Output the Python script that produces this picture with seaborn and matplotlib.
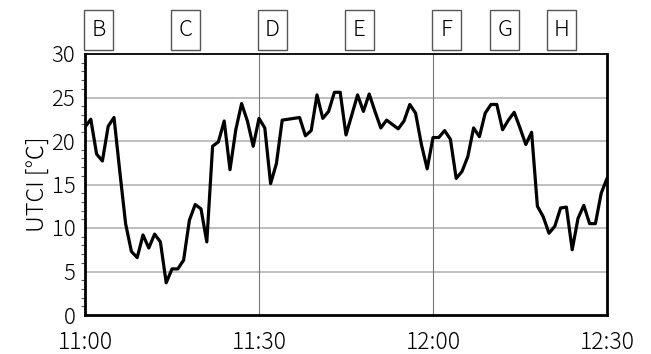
import matplotlib
matplotlib.use("Agg")
import matplotlib.pyplot as plt
import matplotlib.transforms as mtransforms
from matplotlib.patches import Rectangle
from matplotlib.ticker import MultipleLocator
import seaborn as sns
import pandas as pd

# UTCI readings, one per minute from 11:00 to 12:30
minutes = list(range(0, 91))
utci = [
    21.6, 22.5, 18.5, 17.7, 21.7, 22.7, 16.5, 10.5, 7.3, 6.6,
    9.2, 7.7, 9.3, 8.4, 3.7, 5.3, 5.3, 6.3, 10.9, 12.7,
    12.2, 8.4, 19.4, 19.9, 22.3, 16.7, 21.3, 24.3, 22.3, 19.4,
    22.6, 21.5, 15.1, 17.4, 22.4, 22.5, 22.6, 22.7, 20.6, 21.2,
    25.3, 22.6, 23.4, 25.6, 25.6, 20.7, 23.0, 25.3, 23.4, 25.4,
    23.4, 21.5, 22.4, 21.9, 21.4, 22.3, 24.2, 23.2, 19.6, 16.8,
    20.4, 20.4, 21.2, 20.2, 15.7, 16.5, 18.2, 21.5, 20.5, 23.2,
    24.2, 24.2, 21.3, 22.4, 23.3, 21.5, 19.6, 21.0, 12.5, 11.3,
    9.4, 10.2, 12.3, 12.4, 7.5, 11.1, 12.6, 10.5, 10.5, 14.0,
    15.7,
]

# Site markers along the top of the chart
site_labels = ["B", "C", "D", "E", "F", "G", "H"]
site_minutes = [2.4, 17.4, 32.3, 47.3, 62.3, 72.4, 82.2]

tick_minutes = [0, 30, 60, 90]
tick_labels = ["11:00", "11:30", "12:00", "12:30"]

sns.set_theme(style="white")
plt.rcParams["font.family"] = ["Noto Sans CJK JP", "DejaVu Sans"]
plt.rcParams["font.weight"] = "light"
plt.rcParams["axes.labelweight"] = "light"
plt.rcParams["text.color"] = "black"
plt.rcParams["xtick.color"] = "black"
plt.rcParams["ytick.color"] = "black"
plt.rcParams["axes.labelcolor"] = "black"

df = pd.DataFrame({"minute": minutes, "UTCI": utci})

fig = plt.figure(figsize=(6.51, 3.54), dpi=100)
ax = fig.add_axes([85 / 651, 1 - 315 / 354, (607 - 85) / 651, (315 - 54) / 354])

# grid
for y in [5, 10, 15, 20, 25]:
    ax.axhline(y, color="#b4b4b4", lw=1.2, zorder=0)
for x in [30, 60]:
    ax.axvline(x, color="#777777", lw=0.8, zorder=0)

sns.lineplot(data=df, x="minute", y="UTCI", ax=ax, color="black", lw=2.3,
             zorder=3)

ax.set_xlim(0, 90)
ax.set_ylim(0, 30)
ax.set_xticks(tick_minutes)
ax.set_xticklabels(tick_labels)
ax.yaxis.set_major_locator(MultipleLocator(5))
ax.yaxis.set_minor_locator(MultipleLocator(1))
ax.tick_params(axis="both", which="major", direction="out", length=6,
               width=1.5, color="black", labelsize=16, pad=1)
ax.tick_params(axis="x", which="major", length=7, pad=4, labelsize=16.5)
ax.tick_params(axis="y", which="minor", direction="out", length=3,
               width=0.8, color="#555555", left=True)
ax.set_xlabel("")
ax.set_ylabel("UTCI [℃]", fontsize=17, fontweight="light", labelpad=1)

for side, lw in [("left", 2.0), ("bottom", 2.0), ("right", 2.0), ("top", 1.3)]:
    ax.spines[side].set_visible(True)
    ax.spines[side].set_color("black")
    ax.spines[side].set_linewidth(lw)

# boxed site labels above the plot area
trans = mtransforms.blended_transform_factory(ax.transData, ax.transAxes)
box_w = 5.0
y0, h = 1.0153, 0.1533
for lab, m in zip(site_labels, site_minutes):
    ax.add_patch(Rectangle((m - box_w / 2, y0), box_w, h, transform=trans,
                           fill=False, edgecolor="#555555", lw=1.0,
                           clip_on=False))
    ax.text(m, y0 + h / 2, lab, transform=trans, ha="center", va="center",
            fontsize=16, fontweight="light", color="black")

fig.savefig("out.png", dpi=100)
